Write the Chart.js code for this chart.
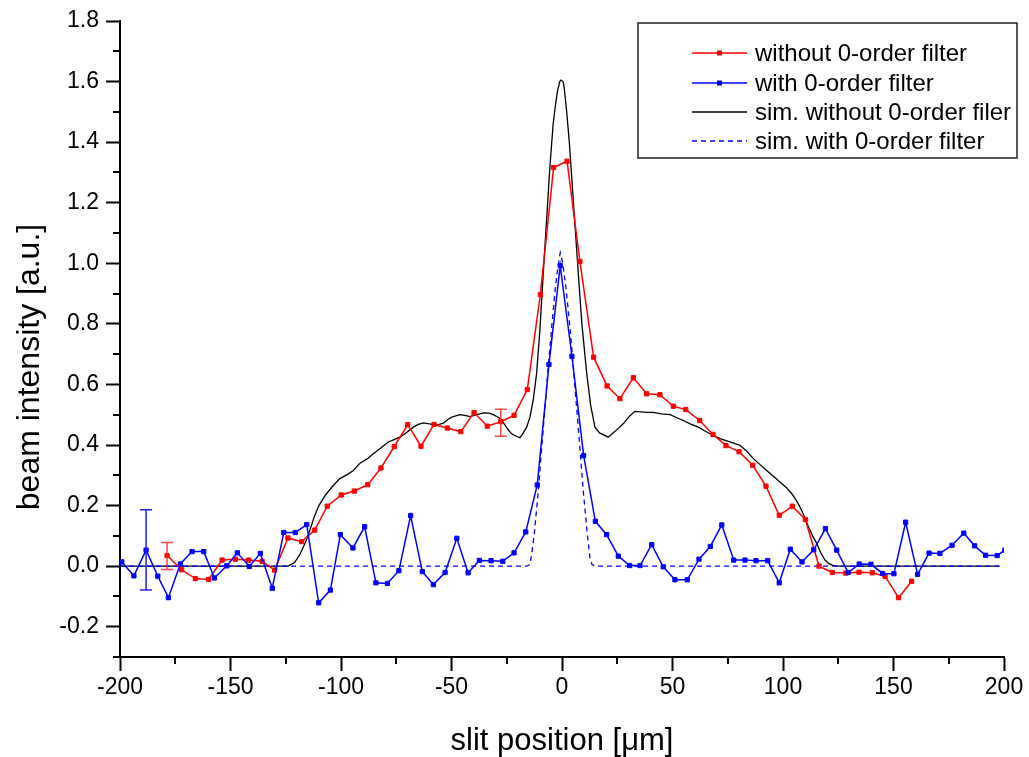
<!DOCTYPE html>
<html>
<head>
<meta charset="utf-8">
<script src="https://cdn.jsdelivr.net/npm/chart.js@4.4.1/dist/chart.umd.min.js"></script>
<style>
html,body{margin:0;padding:0;background:#fff;}
#wrap{width:1029px;height:757px;}
</style>
</head>
<body>
<div id="wrap"><canvas id="c" width="1029" height="757"></canvas></div>
<script>
// ---- measured: without 0-order filter (red)
const redX = [-178.7,-172.1,-165.9,-159.9,-153.8,-147.8,-141.8,-135.7,-130,-124,-117.8,-111.9,-106.2,-99.9,-94,-87.9,-81.9,-75.9,-69.8,-63.8,-57.9,-51.9,-45.8,-39.8,-33.8,-27.7,-21.7,-15.7,-9.8,-3.8,2.3,8.1,14.3,20.4,26.2,32.3,38.3,44.3,50.4,56,62.3,68.3,74.2,80.1,86.3,92.3,98.3,104.2,110.1,116.3,122.3,128.4,134.4,140.4,146.2,152.3,158.2];
const redY = [0.035,-0.012,-0.041,-0.044,0.020,0.023,0.020,0.016,-0.013,0.093,0.081,0.119,0.198,0.235,0.248,0.269,0.324,0.395,0.467,0.396,0.468,0.456,0.444,0.507,0.462,0.477,0.498,0.583,0.897,1.316,1.337,1.006,0.690,0.595,0.553,0.622,0.569,0.566,0.528,0.517,0.481,0.435,0.398,0.378,0.333,0.264,0.168,0.198,0.154,0.0,-0.021,-0.023,-0.020,-0.022,-0.034,-0.104,-0.050];

// ---- measured: with 0-order filter (blue)
const blueX = [-199.2,-193.7,-188.2,-182.9,-178.1,-172.7,-167.4,-162.1,-157.3,-151.7,-146.9,-141.5,-136.5,-131.1,-125.9,-120.7,-115.5,-110.1,-104.8,-100.3,-94.6,-89.3,-84.2,-79.0,-73.8,-68.5,-63.2,-58.2,-52.9,-47.6,-42.5,-37.4,-32.1,-26.8,-21.7,-16.4,-11.2,-5.9,-0.8,4.5,9.8,15.1,20.2,25.5,30.6,35.3,40.6,45.8,51.1,56.7,62,67.1,72.3,77.7,82.8,87.8,93.1,98.3,103.3,108.6,113.9,119.2,124.3,129.5,134.5,139.8,145.1,150.2,155.5,160.9,166.1,171,176.5,181.8,186.7,191.7,196.9,200.4];
const blueY = [0.014,-0.032,0.053,-0.033,-0.104,0.007,0.048,0.048,-0.039,0.001,0.044,-0.001,0.042,-0.073,0.111,0.111,0.137,-0.121,-0.079,0.104,0.060,0.130,-0.055,-0.057,-0.015,0.167,-0.018,-0.061,-0.021,0.092,-0.022,0.019,0.018,0.016,0.044,0.113,0.268,0.666,0.992,0.693,0.365,0.148,0.104,0.033,0.002,0.002,0.071,-0.002,-0.045,-0.045,0.023,0.065,0.136,0.020,0.020,0.018,0.018,-0.055,0.056,0.014,0.054,0.124,0.053,-0.021,0.007,0.006,-0.024,-0.025,0.145,-0.027,0.043,0.042,0.069,0.109,0.067,0.036,0.035,0.053];

// ---- simulation without 0-order filter (black)
const simNoX = [-200,-124,-121,-118.5,-116,-114,-112,-110,-107,-104,-100.5,-97,-94.4,-91.4,-88,-85.4,-82,-78.6,-76,-73.3,-70,-67.3,-65,-62.8,-60,-58.2,-55.5,-53.7,-51.5,-49.9,-46.2,-43.5,-41.6,-38.5,-35.6,-33,-31.1,-28.5,-26.6,-24.5,-22.8,-20.5,-19,-17.5,-16,-14.5,-13,-11.5,-10,-8.5,-7,-5.5,-4,-3,-2,-1,-0.5,0.5,1,2,3.3,5,7.4,9,11.2,13,14.9,17,20.9,24,27.7,30.5,33,38.3,41.3,45,48.9,52,54.9,58,61.7,64.5,67,71.5,76,78,80.5,83.5,86.6,89.5,92.6,95.5,98.6,101.5,103.9,105.8,107.7,109.6,111.5,113.4,115.3,117,119,120.8,122.8,125,198];
const simNoY = [0,0,0.012,0.04,0.08,0.12,0.165,0.2,0.235,0.262,0.289,0.303,0.316,0.34,0.355,0.371,0.39,0.41,0.418,0.426,0.443,0.459,0.468,0.473,0.47,0.467,0.468,0.472,0.485,0.492,0.5,0.497,0.494,0.5,0.506,0.505,0.5,0.49,0.475,0.452,0.437,0.428,0.424,0.44,0.459,0.492,0.55,0.635,0.78,0.964,1.14,1.316,1.46,1.52,1.57,1.60,1.605,1.60,1.58,1.51,1.40,1.22,0.964,0.80,0.635,0.53,0.459,0.44,0.426,0.445,0.47,0.495,0.511,0.508,0.508,0.503,0.5,0.49,0.481,0.47,0.459,0.447,0.437,0.421,0.41,0.405,0.399,0.38,0.355,0.336,0.316,0.298,0.278,0.26,0.24,0.22,0.195,0.165,0.13,0.1,0.075,0.045,0.02,0.008,0.002,0,0];

// ---- simulation with 0-order filter (blue dashed)
const simWithX = [-200,-16,-14.5,-13.7,-12.5,-10.7,-9.2,-7.7,-6.2,-4.7,-3,-1.8,-0.8,0.2,1.8,3.6,5.1,6.6,8.1,9.6,11.4,12.6,13.6,15,198];
const simWithY = [0,0,0.005,0.04,0.11,0.25,0.39,0.525,0.66,0.788,0.92,0.99,1.035,1.005,0.92,0.788,0.66,0.525,0.39,0.25,0.11,0.03,0.005,0,0];

// ---- error bars
const redErrX = [-178.7,-27.7];
const redErrLow = [-0.011,0.429];
const redErrHigh = [0.078,0.518];
const blueErrX = [-188.2];
const blueErrLow = [-0.079];
const blueErrHigh = [0.186];

// ---- ticks
const xTicks = [-200,-150,-100,-50,0,50,100,150,200];
const xMinor = [-175,-125,-75,-25,25,75,125,175];
const yTicks = [-0.2,0,0.2,0.4,0.6,0.8,1.0,1.2,1.4,1.6,1.8];
const yMinor = [-0.3,-0.1,0.1,0.3,0.5,0.7,0.9,1.1,1.3,1.5,1.7];

const FONT = '"Liberation Sans", Arial, Helvetica, sans-serif';
const pts = (xs, ys) => xs.map((x, i) => ({x: x, y: ys[i]}));

const minorTicks = {
  id: 'minorTicks',
  afterDraw(chart) {
    const ctx = chart.ctx, xs = chart.scales.x, ys = chart.scales.y;
    ctx.save();
    ctx.strokeStyle = '#000';
    ctx.lineWidth = 2;
    ctx.beginPath();
    xMinor.forEach(v => { const p = Math.round(xs.getPixelForValue(v)); ctx.moveTo(p, xs.top); ctx.lineTo(p, xs.top + 7); });
    yMinor.forEach(v => { const p = Math.round(ys.getPixelForValue(v)); ctx.moveTo(ys.right, p); ctx.lineTo(ys.right - 7, p); });
    ctx.stroke();
    ctx.restore();
  }
};

const errorBars = {
  id: 'errorBars',
  afterDatasetsDraw(chart) {
    const ctx = chart.ctx, xs = chart.scales.x, ys = chart.scales.y;
    const draw = (X, L, H, color) => {
      ctx.strokeStyle = color; ctx.lineWidth = 1.5;
      X.forEach((x, i) => {
        const px = xs.getPixelForValue(x), pl = ys.getPixelForValue(L[i]), ph = ys.getPixelForValue(H[i]);
        ctx.beginPath();
        ctx.moveTo(px, pl); ctx.lineTo(px, ph);
        ctx.moveTo(px - 6, pl); ctx.lineTo(px + 6, pl);
        ctx.moveTo(px - 6, ph); ctx.lineTo(px + 6, ph);
        ctx.stroke();
      });
    };
    ctx.save();
    draw(redErrX, redErrLow, redErrHigh, 'rgba(255,40,40,0.85)');
    draw(blueErrX, blueErrLow, blueErrHigh, '#2020ff');
    ctx.restore();
  }
};

const boxLegend = {
  id: 'boxLegend',
  afterDraw(chart) {
    const ctx = chart.ctx;
    const bx = 638, by = 23, bw = 379, bh = 135;
    ctx.save();
    ctx.fillStyle = '#fff';
    ctx.fillRect(bx, by, bw, bh);
    ctx.strokeStyle = '#222';
    ctx.lineWidth = 1.5;
    ctx.strokeRect(bx, by, bw, bh);
    const rows = [53, 83, 112, 141];
    ctx.font = '24px ' + FONT;
    ctx.textBaseline = 'middle';
    ctx.textAlign = 'left';
    chart.data.datasets.forEach((ds, i) => {
      const y = rows[i];
      ctx.strokeStyle = ds.borderColor;
      ctx.lineWidth = ds.borderWidth;
      ctx.setLineDash(ds.borderDash || []);
      ctx.beginPath();
      ctx.moveTo(692, y); ctx.lineTo(747, y);
      ctx.stroke();
      ctx.setLineDash([]);
      if (ds.pointRadius > 0) {
        ctx.fillStyle = ds.borderColor;
        ctx.fillRect(719.5 - 2.5, y - 2.5, 5, 5);
      }
      ctx.fillStyle = '#000';
      ctx.fillText(ds.label, 755, y + 1);
    });
    ctx.restore();
  }
};

new Chart(document.getElementById('c'), {
  type: 'line',
  data: {
    datasets: [
      {label: 'without 0-order filter', data: pts(redX, redY), borderColor: '#ff0000', backgroundColor: '#ff0000',
       pointBackgroundColor: '#ff0000', pointBorderColor: '#ff0000', borderWidth: 1.5, pointStyle: 'rect', pointRadius: 3, pointBorderWidth: 1, tension: 0, order: 1},
      {label: 'with 0-order filter', data: pts(blueX, blueY), borderColor: '#0000ff', backgroundColor: '#0000ff',
       pointBackgroundColor: '#0000ff', pointBorderColor: '#0000ff', borderWidth: 1.5, pointStyle: 'rect', pointRadius: 3, pointBorderWidth: 1, tension: 0, order: 0},
      {label: 'sim. without 0-order filer', data: pts(simNoX, simNoY), borderColor: '#000000', backgroundColor: '#000000',
       borderWidth: 1.3, pointRadius: 0, tension: 0, order: 3},
      {label: 'sim. with 0-order filter', data: pts(simWithX, simWithY), borderColor: '#0000ff', backgroundColor: '#0000ff',
       borderWidth: 1.3, borderDash: [5, 4], pointRadius: 0, tension: 0, order: 2}
    ]
  },
  options: {
    responsive: false,
    animation: false,
    devicePixelRatio: 1,
    events: [],
    layout: {padding: {top: 21, right: 25, bottom: 44, left: 0}},
    plugins: {
      legend: {display: false},
      tooltip: {enabled: false},
      title: {display: true, position: 'left', text: 'beam intensity [a.u.]', color: '#000',
              font: {family: FONT, size: 32, weight: 'normal', lineHeight: 1}, padding: {top: 14, bottom: 0}}
    },
    scales: {
      x: {
        type: 'linear', min: -200, max: 200,
        afterFit(s) { s.height = 56; },
        afterBuildTicks(s) { s.ticks = xTicks.map(v => ({value: v})); },
        ticks: {autoSkip: false, maxRotation: 0, color: '#000', font: {family: FONT, size: 23}, padding: 3, callback: v => String(v)},
        grid: {drawOnChartArea: false, drawTicks: true, tickLength: 14, tickWidth: 2, tickColor: '#000'},
        border: {display: true, color: '#000', width: 2},
        title: {display: true, text: 'slit position [μm]', color: '#000', font: {family: FONT, size: 31}, padding: {top: 0, bottom: -47.5}}
      },
      y: {
        type: 'linear', min: -0.3, max: 1.8,
        afterFit(s) { s.width = 74; },
        afterBuildTicks(s) { s.ticks = yTicks.map(v => ({value: v})); },
        ticks: {autoSkip: false, color: '#000', font: {family: FONT, size: 23}, padding: 7, callback: v => v.toFixed(1)},
        grid: {drawOnChartArea: false, drawTicks: true, tickLength: 14, tickWidth: 2, tickColor: '#000'},
        border: {display: true, color: '#000', width: 2}
      }
    }
  },
  plugins: [minorTicks, errorBars, boxLegend]
});
</script>
</body>
</html>
